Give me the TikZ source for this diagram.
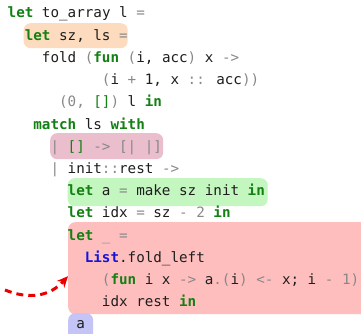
\documentclass[tikz,border=0pt]{standalone}
\usepackage{fontspec}
\newfontfamily\codefont{DejaVu Sans Mono}
\usetikzlibrary{arrows.meta}
\definecolor{kwgreen}{RGB}{20,128,20}
\definecolor{opgray}{RGB}{136,136,136}
\definecolor{txt}{RGB}{30,30,30}
\definecolor{modblue}{RGB}{20,20,220}
\definecolor{hlorange}{RGB}{253,219,190}
\definecolor{hlpink}{RGB}{234,190,205}
\definecolor{hlgreen}{RGB}{196,246,192}
\definecolor{hlred}{RGB}{255,190,190}
\definecolor{hlblue}{RGB}{196,196,246}
\definecolor{arrred}{RGB}{235,0,0}
\newcommand\kw[1]{{\bfseries\color{kwgreen}#1}}
\newcommand\op[1]{{\color{opgray}#1}}
\newcommand\gl[1]{{\color{kwgreen}#1}}
\newcommand\md[1]{{\bfseries\color{modblue}#1}}
\begin{document}
\begin{tikzpicture}[x=1pt,y=-1pt,
  codeline/.style={anchor=base west,inner sep=0pt,text=txt,
    font=\codefont\fontsize{14.24}{22.2}\selectfont},
  hl/.style={rounded corners=7pt,inner sep=0pt,anchor=north west}]
\useasboundingbox (0,0) rectangle (361,334);
\fill[white] (0,0) rectangle (361,334);
% highlights
\node[hl,fill=hlorange,minimum width=104pt,minimum height=25pt] (hlo) at (23.5,23) {};
\node[hl,fill=hlpink,minimum width=113pt,minimum height=26pt] (hlp) at (50,133) {};
\node[hl,fill=hlgreen,minimum width=200pt,minimum height=28pt] (hlg) at (67.5,178) {};
\node[hl,fill=hlred,minimum width=310pt,minimum height=92pt] (hlr) at (68,222) {};
\node[hl,fill=hlblue,minimum width=25pt,minimum height=30pt] (hlb) at (68,313) {};
% code lines (x = 7.5 + col*8.57, baseline = 18 + (n-1)*22.2)
\node[codeline] (l1) at (7.5,18) {\kw{let} to\_array l \op{=}};
\node[codeline] (l2) at (24.64,40.2) {\kw{let} sz, ls \op{=}};
\node[codeline] (l3) at (41.78,62.4) {fold \op{(}\kw{fun} \op{(}i, acc\op{)} x \op{->}};
\node[codeline] (l4) at (101.77,84.6) {\op{(}i \op{+} 1, x \op{::} acc\op{))}};
\node[codeline] (l5) at (58.92,106.8) {\op{(0,} \gl{[]}\op{)} l \kw{in}};
\node[codeline] (l6) at (33.21,129) {\kw{match} ls \kw{with}};
\node[codeline] (l7) at (50.35,151.2) {\op{|} \gl{[]} \op{->} \op{[|} \op{|]}};
\node[codeline] (l8) at (50.35,173.4) {\op{|} init\op{::}rest \op{->}};
\node[codeline] (l9) at (67.49,195.6) {\kw{let} a \op{=} make sz init \kw{in}};
\node[codeline] (l10) at (67.49,217.8) {\kw{let} idx \op{=} sz \op{-} \op{2} \kw{in}};
\node[codeline] (l11) at (67.49,240) {\kw{let} \op{\_} \op{=}};
\node[codeline] (l12) at (84.63,262.2) {\md{List}.fold\_left};
\node[codeline] (l13) at (101.77,284.4) {\op{(}\kw{fun} i x \op{->} a\op{.(}i\op{)} \op{<-} x; i \op{-} \op{1)}};
\node[codeline] (l14) at (101.77,306.6) {idx rest \kw{in}};
\node[codeline] (l15) at (76.06,328.8) {a};
% arrow
\coordinate (arrstart) at (5,290);
\draw[arrred,line width=3pt,dash pattern=on 7pt off 5pt,
  -{Stealth[length=11pt,width=10pt]}]
  (arrstart) .. controls (30,300) and (50,296) .. ([yshift=-8pt]hlr.west);
\end{tikzpicture}
\end{document}
